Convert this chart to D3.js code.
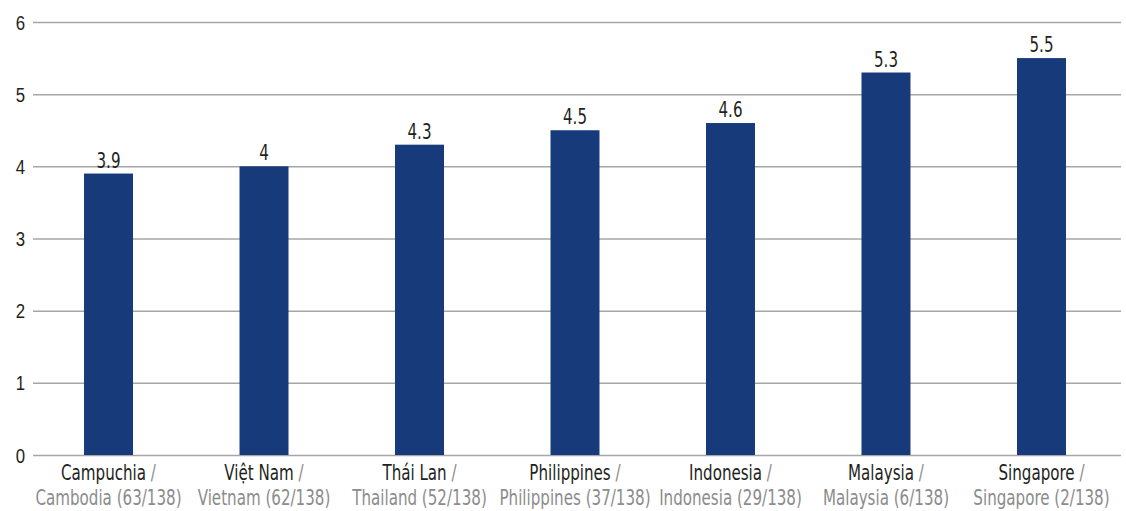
<!DOCTYPE html>
<html>
<head>
<meta charset="utf-8">
<script src="https://cdn.jsdelivr.net/npm/d3@7"></script>
<style>
  html, body { margin: 0; padding: 0; background: #fff; }
  svg { display: block; font-family: "DejaVu Sans Condensed", "Roboto", sans-serif; }
</style>
</head>
<body>
<svg id="chart" width="1126" height="511"></svg>
<script>
// Vietnamese names, English names with ranking, and scores
const namesVi = ["Campuchia", "Việt Nam", "Thái Lan", "Philippines", "Indonesia", "Malaysia", "Singapore"];
const namesEn = ["Cambodia (63/138)", "Vietnam (62/138)", "Thailand (52/138)", "Philippines (37/138)", "Indonesia (29/138)", "Malaysia (6/138)", "Singapore (2/138)"];
const scores = [3.9, 4, 4.3, 4.5, 4.6, 5.3, 5.5];
const yTicks = [0, 1, 2, 3, 4, 5, 6];

const svg = d3.select("#chart");
const grid = { left: 33, right: 1121, top: 22, bottom: 455 };
const narrow = 0.8; // horizontal squeeze for a condensed look
const fs = "21px";

const x = d3.scaleBand().domain(namesVi).range([31, 1119]).paddingInner(0.685).paddingOuter(0.341);
const y = d3.scaleLinear().domain([0, 6]).range([grid.bottom, grid.top]);

// Horizontal gridlines with left tick labels
const yAxis = d3.axisLeft(y).tickValues(yTicks).tickSize(-(grid.right - grid.left)).tickFormat(d3.format("d"));
const gy = svg.append("g").attr("transform", `translate(${grid.left},0)`).call(yAxis);
gy.select(".domain").remove();
gy.selectAll(".tick line").attr("stroke", "#a6a6a6").attr("stroke-width", 1.5);
gy.selectAll(".tick text")
  .attr("x", null).attr("dy", null)
  .attr("transform", `translate(-8,7) scale(${narrow},1)`)
  .attr("fill", "#231f20").style("font-size", fs);

// Bars
svg.append("g").selectAll("rect").data(scores).join("rect")
  .attr("x", (d, i) => x(namesVi[i]))
  .attr("width", x.bandwidth())
  .attr("y", d => y(d))
  .attr("height", d => y(0) - y(d))
  .attr("fill", "#173a7a");

// Value labels above the bars
svg.append("g").selectAll("text").data(scores).join("text")
  .attr("transform", (d, i) => `translate(${x(namesVi[i]) + x.bandwidth() / 2},${y(d) - 6}) scale(${narrow},1)`)
  .attr("text-anchor", "middle")
  .attr("fill", "#231f20")
  .style("font-size", fs)
  .text(d => d);

// Two-line category labels
const cat = svg.append("g").selectAll("g").data(namesVi).join("g")
  .attr("transform", d => `translate(${x(d) + x.bandwidth() / 2},0) scale(${narrow},1)`);
const l1 = cat.append("text").attr("y", 480).attr("text-anchor", "middle").style("font-size", fs);
l1.append("tspan").attr("fill", "#231f20").text(d => d);
l1.append("tspan").attr("fill", "#8c8c8c").text("  /");
cat.append("text").attr("y", 505).attr("text-anchor", "middle")
  .attr("fill", "#8c8c8c").style("font-size", fs)
  .text((d, i) => namesEn[i]);
</script>
</body>
</html>
